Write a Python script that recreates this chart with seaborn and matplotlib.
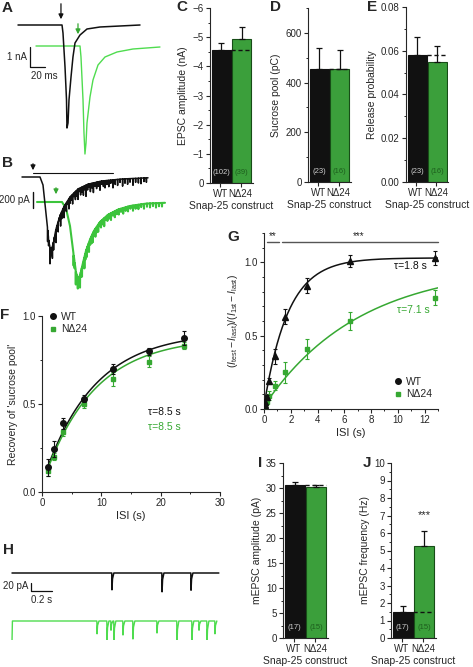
import numpy as np
import pandas as pd
import matplotlib
matplotlib.use("Agg")
import matplotlib.pyplot as plt
from matplotlib.ticker import MultipleLocator, FormatStrFormatter
from matplotlib.lines import Line2D
import seaborn as sns

sns.set_theme(style="ticks")
plt.rcParams['font.family'] = ['Liberation Sans', 'DejaVu Sans']
plt.rcParams['mathtext.fontset'] = 'custom'
plt.rcParams['mathtext.rm'] = 'Liberation Sans'
plt.rcParams['mathtext.it'] = 'Liberation Sans:italic'
plt.rcParams['axes.linewidth'] = 0.8

BLACK = '#111111'
BAR_GREEN = '#2ab02a'
GREEN_EDGE = '#174d17'
LINE_GREEN = '#36a832'
TRACE_GREEN = '#4fdc4f'

# ---- data ----
constructs = ['WT', 'NΔ24']

# A: evoked EPSC traces (ms, nA)
a_wt_t = [0, 58.7, 60, 62.7, 64.7, 65.3, 66.7, 68, 70.7, 73.3, 76, 82.7, 92, 109.3, 162.7]
a_wt_i = [0, 0, -0.4, -2.1, -3.75, -5.15, -4.9, -3.75, -2.6, -1.6, -0.9, -0.5, -0.2, -0.1, 0]
a_nd_t = [24, 82.7, 84, 86.7, 88, 89.3, 90.7, 92, 96, 100, 106.7, 116, 132, 153.3, 189.3]
a_nd_i = [0, 0, -0.55, -2.7, -4.35, -5.4, -4.85, -3.85, -2.55, -1.7, -0.95, -0.55, -0.3, -0.15, -0.05]

# B: sucrose responses (s, pA): smooth course plus downward noise spikes
b_wt_t = [0, 0.9, 1.05, 1.2, 1.35, 1.45, 1.55, 1.7, 1.9, 2.1, 2.4, 2.8, 3.3, 4.0, 5.0, 6.3]
b_wt_i = [0, 0, -100, -450, -820, -930, -840, -650, -480, -370, -250, -150, -90, -50, -25, -10]
b_wt_spike_t = [1.28, 1.33, 1.4, 1.47, 1.52, 1.58, 1.63, 1.7, 1.76, 1.81, 1.88, 1.93, 1.99, 2.05,
                2.1, 2.17, 2.22, 2.29, 2.35, 2.41, 2.48, 2.53, 2.6, 2.67, 2.72, 2.8, 2.86, 2.93,
                3.0, 3.07, 3.13, 3.2, 3.28, 3.34, 3.42, 3.5, 3.57, 3.65, 3.73, 3.81, 3.9, 3.98,
                4.07, 4.15, 4.25, 4.34, 4.44, 4.55, 4.66, 4.78, 4.9, 5.03, 5.15, 5.28, 5.4, 5.55,
                5.68, 5.82, 5.95, 6.1, 6.22]
b_wt_spike_a = [160, 90, 210, 70, 150, 110, 60, 170, 80, 130, 50, 150, 90, 60, 140, 70, 110, 50,
                130, 80, 60, 120, 45, 100, 70, 130, 40, 90, 60, 110, 50, 140, 70, 40, 100, 60, 120,
                45, 80, 55, 110, 40, 70, 90, 50, 80, 40, 100, 60, 75, 40, 90, 55, 70, 45, 85, 50,
                60, 70, 45, 55]
b_nd_t = [0.75, 2.0, 2.2, 2.4, 2.55, 2.7, 2.8, 2.9, 3.05, 3.2, 3.4, 3.6, 3.9, 4.3, 4.8, 5.4, 6.2, 7.15]
b_nd_i = [0, 0, -80, -300, -600, -880, -960, -920, -760, -610, -470, -360, -250, -160, -95, -50, -20, -10]
b_nd_spike_t = [2.58, 2.63, 2.69, 2.74, 2.79, 2.84, 2.9, 2.95, 3.0, 3.06, 3.12, 3.17, 3.23, 3.29,
                3.35, 3.41, 3.48, 3.54, 3.6, 3.67, 3.74, 3.81, 3.88, 3.95, 4.03, 4.11, 4.19, 4.27,
                4.36, 4.45, 4.54, 4.64, 4.74, 4.84, 4.95, 5.06, 5.18, 5.3, 5.42, 5.55, 5.68, 5.82,
                5.96, 6.1, 6.25, 6.4, 6.55, 6.7, 6.85, 7.0]
b_nd_spike_a = [140, 80, 170, 60, 130, 100, 150, 70, 120, 60, 140, 80, 100, 50, 120, 70, 90, 110,
                50, 100, 70, 90, 45, 80, 60, 100, 40, 70, 55, 85, 40, 75, 50, 65, 40, 70, 45, 60,
                35, 65, 45, 55, 35, 60, 40, 50, 35, 55, 40, 45]

# C-E, I-J: bar values, upper error tips, n
epsc_amp = [-4.55, -4.95]
epsc_tip = [-4.8, -5.35]
epsc_n = ['(102)', '(39)']
sucrose_pool = [455, 455]
sucrose_tip = [540, 530]
sucrose_n = ['(23)', '(16)']
release_prob = [0.058, 0.055]
release_tip = [0.0665, 0.062]
release_n = ['(23)', '(16)']
mepsc_amp = [30.7, 30.2]
mepsc_amp_tip = [31.2, 30.6]
mepsc_freq = [1.5, 5.25]
mepsc_freq_tip = [1.85, 6.1]
mepsc_n = ['(17)', '(15)']

# F: recovery of sucrose pool
f_isi = [1, 2, 3.5, 7, 12, 18, 24]
f_wt = [0.14, 0.245, 0.39, 0.53, 0.70, 0.80, 0.875]
f_wt_err = [0.05, 0.045, 0.03, 0.02, 0.03, 0.02, 0.04]
f_nd = [0.12, 0.20, 0.34, 0.50, 0.64, 0.74, 0.83]
f_nd_err = [0.03, 0.02, 0.02, 0.02, 0.04, 0.03, 0.02]
f_tau = [8.5, 8.5]
f_amp = [0.86, 0.84]
f_off = [0.05, 0.04]

# G: recovery after train
g_isi = [0.05, 0.1, 0.2, 0.4, 0.8, 1.6, 3.2, 6.4, 12.8]
g_wt = [0.03, 0.05, 0.08, 0.19, 0.36, 0.63, 0.84, 1.01, 1.03]
g_wt_err = [0.01, 0.01, 0.015, 0.02, 0.05, 0.05, 0.05, 0.04, 0.05]
g_nd = [0.02, 0.03, 0.05, 0.09, 0.16, 0.25, 0.41, 0.60, 0.76]
g_nd_err = [0.01, 0.01, 0.015, 0.03, 0.03, 0.07, 0.07, 0.06, 0.05]
g_tau = [1.8, 7.1]
g_amp = [1.01, 0.96]
g_off = [0.02, 0.02]

# H: mEPSC event times (s) and amplitudes (pA)
h_wt_times = [0.952, 1.429, 1.705]
h_wt_amps = [42, 47, 43]
h_nd_times = [0.81, 0.905, 0.943, 0.971, 1.057, 1.152, 1.381, 1.571, 1.714, 1.781, 1.857, 1.933]
h_nd_amps = [32, 48, 23, 52, 35, 45, 30, 62, 52, 23, 62, 32]
h_nd_start_amp = 52

# ---- layout ----
W, H = 473, 667
fig = plt.figure(figsize=(W / 100, H / 100), dpi=100)


def add_ax(x0, y0, x1, y1):
    return fig.add_axes([x0 / W, 1 - y1 / H, (x1 - x0) / W, (y1 - y0) / H])


def letter(x, y, s):
    fig.text(x / W, 1 - y / H, s, fontsize=11, fontweight='bold', ha='center', va='center')


def style_ticks(ax):
    ax.tick_params(which='major', length=3, width=0.8, labelsize=7, pad=1.5, direction='out')
    ax.tick_params(which='minor', length=1.6, width=0.7, direction='out')


def bar_panel(box, values, tips, nlab, ylim, major, minor, ylabel, fmt=None, ncolors=('#d0d0d0', '#1d5e1d')):
    ax = add_ax(*box)
    df = pd.DataFrame({'construct': constructs, 'value': values})
    sns.barplot(data=df, x='construct', y='value', hue='construct', palette=[BLACK, BAR_GREEN],
                width=0.95, errorbar=None, legend=False, ax=ax, linewidth=0.8)
    for p, ec in zip(ax.patches, [BLACK, GREEN_EDGE]):
        p.set_edgecolor(ec)
    lo = [max(v - t, 0) for v, t in zip(values, tips)]
    up = [max(t - v, 0) for v, t in zip(values, tips)]
    ax.errorbar([0, 1], values, yerr=[lo, up], fmt='none', ecolor=BLACK, elinewidth=0.9,
                capsize=2, capthick=0.9, zorder=4)
    ax.plot([0.475, 1.475], [values[0], values[0]], ls=(0, (3, 2)), color=BLACK, lw=1, zorder=5)
    for i, s in enumerate(nlab):
        ax.text(i, 0.06, s, transform=ax.get_xaxis_transform(), ha='center', va='center',
                fontsize=5.5, color=ncolors[i])
    ax.set_xlim(-0.55, 1.55)
    ax.set_ylim(*ylim)
    ax.yaxis.set_major_locator(MultipleLocator(major))
    ax.yaxis.set_minor_locator(MultipleLocator(minor))
    if fmt:
        ax.yaxis.set_major_formatter(FormatStrFormatter(fmt))
    ax.set_xticks([-0.05, 0.95])
    ax.set_xticklabels(constructs, fontsize=6.8)
    ax.set_xlabel('Snap-25 construct', fontsize=7.5, labelpad=1)
    ax.set_ylabel(ylabel, fontsize=7.5, labelpad=3)
    style_ticks(ax)
    sns.despine(ax=ax)
    return ax


def noisy_trace(t_pts, i_pts, spike_t, spike_a, half=0.008):
    # course from the listed points, each listed spike drawn as a narrow downward deflection
    t = list(t_pts)
    for ts in spike_t:
        t += [ts - half, ts, ts + half]
    t = np.array(sorted(t))
    i = np.interp(t, t_pts, i_pts)
    for ts, a in zip(spike_t, spike_a):
        i[np.isclose(t, ts)] -= a
    return t, i


# A
ax = add_ax(0, 0, 170, 160)
ax.plot(a_nd_t, np.array(a_nd_i) - 1.05, color=TRACE_GREEN, lw=1)
ax.plot(a_wt_t, a_wt_i, color=BLACK, lw=1.1)
ax.annotate('', xy=(57.3, 0.15), xytext=(57.3, 1.2),
            arrowprops=dict(arrowstyle='-|>', color=BLACK, lw=0.9, mutation_scale=7))
ax.annotate('', xy=(80, -0.6), xytext=(80, 0.2),
            arrowprops=dict(arrowstyle='-|>', color=LINE_GREEN, lw=0.9, mutation_scale=7))
ax.plot([16, 16, 36], [-1.1, -2.1, -2.1], color=BLACK, lw=0.9)
ax.text(12, -1.6, '1 nA', fontsize=7, ha='right', va='center')
ax.text(34.7, -2.55, '20 ms', fontsize=7, ha='center', va='center')
ax.set_xlim(-24, 202.7)
ax.set_ylim(-6.75, 1.25)
ax.axis('off')

# B
ax = add_ax(0, 155, 175, 300)
t, i = noisy_trace(b_nd_t, b_nd_i, b_nd_spike_t, b_nd_spike_a)
ax.plot(t, i - 312.5, color='#3cc43c', lw=1.5)
t, i = noisy_trace(b_wt_t, b_wt_i, b_wt_spike_t, b_wt_spike_a)
ax.plot(t, i, color=BLACK, lw=1.1)
ax.plot([0.55, 4.55], [50, 50], color=BLACK, lw=0.8)
ax.annotate('', xy=(0.55, 50), xytext=(0.55, 200),
            arrowprops=dict(arrowstyle='-|>', color=BLACK, lw=0.9, mutation_scale=7))
ax.annotate('', xy=(1.7, -250), xytext=(1.7, -100),
            arrowprops=dict(arrowstyle='-|>', color=LINE_GREEN, lw=0.9, mutation_scale=7))
ax.plot([0.55, 0.55], [-187.5, -387.5], color=BLACK, lw=1.0)
ax.text(0.4, -287.5, '200 pA', fontsize=7, ha='right', va='center')
ax.set_xlim(-1.1, 7.65)
ax.set_ylim(-1537.5, 275)
ax.axis('off')

# C, D, E
bar_panel((210, 8, 253, 183), epsc_amp, epsc_tip, epsc_n, (0, -6), 1, 0.5, 'EPSC amplitude (nA)')
bar_panel((308, 8, 351, 182), sucrose_pool, sucrose_tip, sucrose_n, (0, 700), 200, 100, 'Sucrose pool (pC)')
bar_panel((406, 7, 448, 182), release_prob, release_tip, release_n, (0, 0.08), 0.02, 0.01,
          'Release probability', fmt='%.2f')

# F
ax = add_ax(42, 316, 220, 492)
for off, amp, tau, col in zip(f_off, f_amp, f_tau, [BLACK, LINE_GREEN]):
    tt = np.linspace(1, 24, 100)
    sns.lineplot(x=tt, y=off + amp * (1 - np.exp(-tt / tau)), color=col, lw=1.1, ax=ax)
ax.errorbar(f_isi, f_nd, yerr=f_nd_err, fmt='s', color=LINE_GREEN, ms=3.5, capsize=1.5,
            elinewidth=0.8, capthick=0.8, zorder=3)
ax.errorbar(f_isi, f_wt, yerr=f_wt_err, fmt='o', color=BLACK, ms=4, capsize=1.5,
            elinewidth=0.8, capthick=0.8, zorder=4)
ax.text(17.9, 0.455, 'τ=8.5 s', fontsize=7.5, color=BLACK, va='center')
ax.text(17.9, 0.37, 'τ=8.5 s', fontsize=7.5, color=LINE_GREEN, va='center')
ax.legend(handles=[Line2D([], [], marker='o', ls='', color=BLACK, ms=4, label='WT'),
                   Line2D([], [], marker='s', ls='', color=LINE_GREEN, ms=3.5, label='NΔ24')],
          loc='upper left', bbox_to_anchor=(0.0, 1.06), frameon=False, fontsize=7.5,
          handletextpad=0.2, labelspacing=0.25, handlelength=1, borderaxespad=0.2)
ax.set_xlim(0, 30)
ax.set_ylim(0, 1.0)
ax.xaxis.set_major_locator(MultipleLocator(10))
ax.xaxis.set_minor_locator(MultipleLocator(5))
ax.yaxis.set_major_locator(MultipleLocator(0.5))
ax.yaxis.set_minor_locator(MultipleLocator(0.25))
ax.yaxis.set_major_formatter(FormatStrFormatter('%.1f'))
ax.set_xlabel('ISI (s)', fontsize=8, labelpad=2)
ax.set_ylabel("Recovery of 'sucrose pool'", fontsize=7.5, labelpad=3)
style_ticks(ax)
sns.despine(ax=ax)

# G
ax = add_ax(264, 233, 438, 409)
for off, amp, tau, col in zip(g_off, g_amp, g_tau, [BLACK, LINE_GREEN]):
    tt = np.linspace(0, 13, 200)
    sns.lineplot(x=tt, y=off + amp * (1 - np.exp(-tt / tau)), color=col, lw=1.1, ax=ax)
ax.errorbar(g_isi, g_nd, yerr=g_nd_err, fmt='s', color=LINE_GREEN, ms=3.5, capsize=1.5,
            elinewidth=0.8, capthick=0.8, zorder=3)
ax.errorbar(g_isi, g_wt, yerr=g_wt_err, fmt='^', color=BLACK, ms=4, capsize=1.5,
            elinewidth=0.8, capthick=0.8, zorder=4)
ax.plot([0.22, 1.1], [1.14, 1.14], color='#555555', lw=1, clip_on=False)
ax.plot([1.35, 13.0], [1.14, 1.14], color='#555555', lw=1, clip_on=False)
ax.text(0.66, 1.145, '**', fontsize=7, ha='center', va='bottom')
ax.text(7.05, 1.145, '***', fontsize=7, ha='center', va='bottom')
ax.text(9.7, 0.975, 'τ=1.8 s', fontsize=7.5, color=BLACK, va='center')
ax.text(9.9, 0.675, 'τ=7.1 s', fontsize=7.5, color=LINE_GREEN, va='center')
ax.legend(handles=[Line2D([], [], marker='o', ls='', color=BLACK, ms=4, label='WT'),
                   Line2D([], [], marker='s', ls='', color=LINE_GREEN, ms=3.5, label='NΔ24')],
          loc='lower right', bbox_to_anchor=(1.0, 0.02), frameon=False, fontsize=7.5,
          handletextpad=0.2, labelspacing=0.25, handlelength=1, borderaxespad=0.2)
ax.set_xlim(0, 13)
ax.set_ylim(0, 1.2)
ax.xaxis.set_major_locator(MultipleLocator(2))
ax.xaxis.set_minor_locator(MultipleLocator(1))
ax.yaxis.set_major_locator(MultipleLocator(0.5))
ax.yaxis.set_minor_locator(MultipleLocator(0.1))
ax.yaxis.set_major_formatter(FormatStrFormatter('%.1f'))
ax.set_xlabel('ISI (s)', fontsize=8, labelpad=2)
ax.set_ylabel(r'$(I_{\mathrm{test}}-I_{\mathrm{last}})/(I_{\mathrm{1st}}-I_{\mathrm{last}})$',
              fontsize=7.5, labelpad=3)
style_ticks(ax)
sns.despine(ax=ax)


# H
def mini_trace(times, amps, t_end, start_amp=None):
    t, i = ([0.0, 0.004], [-start_amp, 0.0]) if start_amp else ([0.0], [0.0])
    for te, a in zip(times, amps):
        t += [te - 0.002, te, te + 0.005, te + 0.018]
        i += [0.0, -a, -0.35 * a, 0.0]
    t.append(t_end)
    i.append(0.0)
    return t, i


ax = add_ax(0, 555, 230, 640)
t, i = mini_trace(h_wt_times, h_wt_amps, 1.97)
ax.plot(t, i, color=BLACK, lw=1.1)
t, i = mini_trace(h_nd_times, h_nd_amps, 1.95, h_nd_start_amp)
ax.plot(t, np.array(i) - 120, color=TRACE_GREEN, lw=1.0)
ax.plot([0.181, 0.181, 0.381], [-25, -45, -45], color=BLACK, lw=0.9)
ax.text(0.152, -33, '20 pA', fontsize=7, ha='right', va='center')
ax.text(0.28, -67, '0.2 s', fontsize=7, ha='center', va='center')
ax.set_xlim(-12 / 105, 218 / 105)
ax.set_ylim(-167.5, 45)
ax.axis('off')

# I, J
bar_panel((283, 463, 328, 638), mepsc_amp, mepsc_amp_tip, mepsc_n, (0, 35), 5, 2.5, 'mEPSC amplitude (pA)')
ax = bar_panel((391, 463, 436, 638), mepsc_freq, mepsc_freq_tip, mepsc_n, (0, 10), 1, 0.5,
               'mEPSC frequency (Hz)')
ax.text(1, 7.0, '***', fontsize=8, ha='center', va='center')

for x, y, s in [(7, 8, 'A'), (7, 163, 'B'), (182, 7, 'C'), (275, 7, 'D'), (372, 7, 'E'),
                (5, 315, 'F'), (233, 237, 'G'), (8, 550, 'H'), (260, 463, 'I'), (367, 463, 'J')]:
    letter(x, y, s)

fig.savefig('out.png', dpi=100)
